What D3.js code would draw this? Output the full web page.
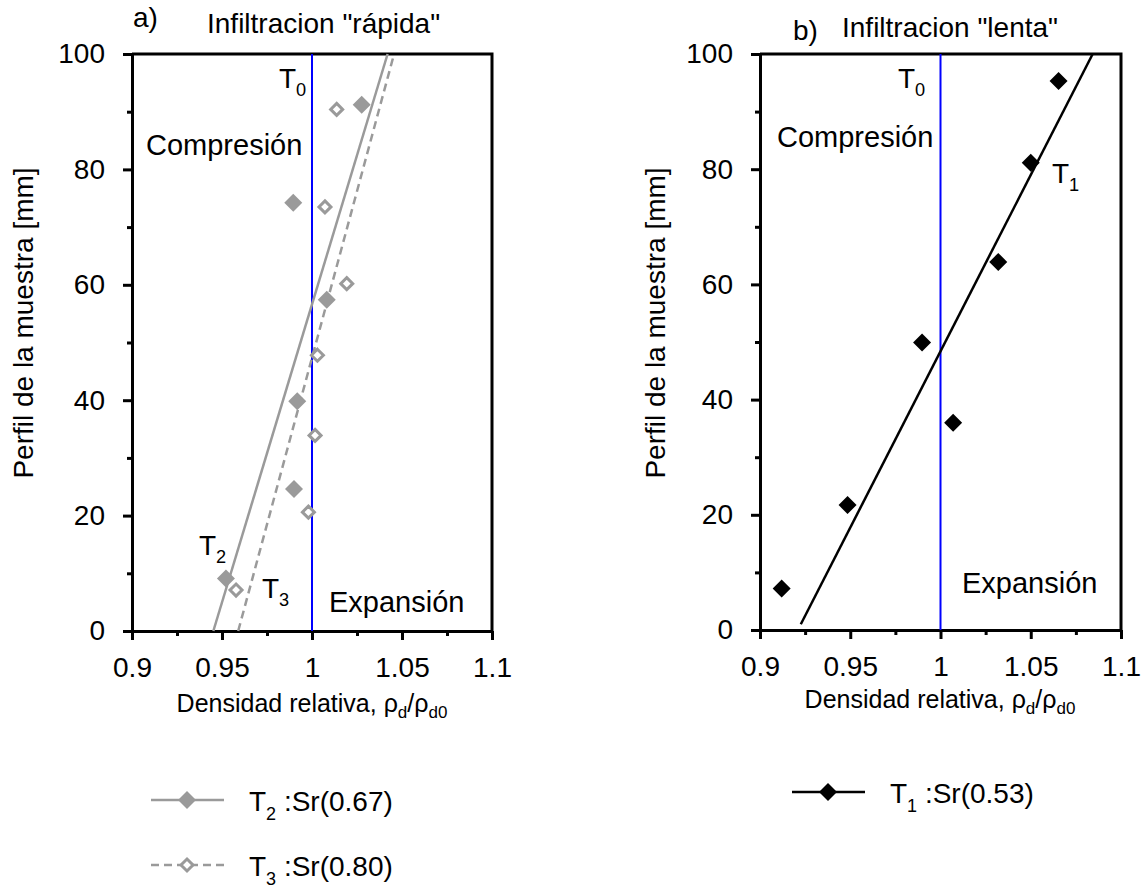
<!DOCTYPE html>
<html><head><meta charset="utf-8">
<script src="https://cdn.jsdelivr.net/npm/d3@7"></script>
<style>
body{margin:0;background:#fff;}
text{font-family:"Liberation Sans",Arial,sans-serif;fill:#000;}
</style></head>
<body><svg id="c" width="1144" height="890"></svg>
<script>
// ---- data ----
const xTicks = [0.9, 0.95, 1, 1.05, 1.1];
const xTickLabels = ["0.9", "0.95", "1", "1.05", "1.1"];
const xMinor = [0.925, 0.975, 1.025, 1.075];
const yTicks = [0, 20, 40, 60, 80, 100];
const yMinor = [10, 30, 50, 70, 90];

// a) Infiltracion "rápida"
const t2X = [0.9522, 0.9900, 0.9918, 1.0082, 0.9896, 1.0276];
const t2Y = [9.1, 24.6, 39.8, 57.4, 74.2, 91.2];
const t3X = [0.9578, 0.9980, 1.0017, 1.0030, 1.0193, 1.0072, 1.0137];
const t3Y = [7.1, 20.6, 33.9, 47.8, 60.2, 73.5, 90.4];
const t2FitX = [0.9452, 1.0420];
const t2FitY = [0, 100];
const t3FitX = [0.9590, 1.0456];
const t3FitY = [0, 100];

// b) Infiltracion "lenta"
const t1X = [0.9120, 0.9485, 0.9898, 1.0070, 1.0320, 1.0500, 1.0654];
const t1Y = [7.2, 21.7, 49.9, 36.0, 63.9, 81.1, 95.3];
const t1FitX = [0.9226, 1.0843];
const t1FitY = [1, 100];

const refX = [1, 1];
const refY = [0, 100];

const legendSr = ["0.67", "0.80", "0.53"];

const GRAY = "#9a9a9a";
const FS = 28;
const svg = d3.select("#c");

function panel(x0, x1, yTop, yBot) {
  const x = d3.scaleLinear().domain([0.9, 1.1]).range([x0, x1]);
  const y = d3.scaleLinear().domain([0, 100]).range([yBot, yTop]);
  const g = svg.append("g");
  g.append("path").attr("d", `M${x0},${yTop}H${x1}V${yBot}`).attr("fill", "none")
    .attr("stroke", "#000").attr("stroke-width", 3);
  g.append("g").attr("transform", `translate(0,${yBot})`)
    .call(d3.axisBottom(x).tickValues(xTicks).tickSize(9).tickSizeOuter(0).tickPadding(17)
      .tickFormat((d, i) => xTickLabels[i]));
  g.append("g").attr("transform", `translate(0,${yBot})`)
    .call(d3.axisBottom(x).tickValues(xMinor).tickSize(5).tickSizeOuter(0).tickFormat(""))
    .select(".domain").remove();
  g.append("g").attr("transform", `translate(${x0},0)`)
    .call(d3.axisLeft(y).tickValues(yTicks).tickSize(9).tickSizeOuter(0).tickPadding(18));
  g.append("g").attr("transform", `translate(${x0},0)`)
    .call(d3.axisLeft(y).tickValues(yMinor).tickSize(5).tickSizeOuter(0).tickFormat(""))
    .select(".domain").remove();
  g.selectAll(".domain").attr("stroke-width", 3);
  g.selectAll(".tick line").attr("stroke-width", 3);
  g.selectAll(".tick text").attr("font-size", 28).attr("font-family", "Liberation Sans, Arial, sans-serif").attr("fill", "#000");
  return {x, y, g};
}

function line(p, xs, ys, color, dash, w) {
  const l = d3.line().x(d => p.x(d[0])).y(d => p.y(d[1]));
  p.g.append("path").attr("d", l(xs.map((v, i) => [v, ys[i]])))
    .attr("fill", "none").attr("stroke", color).attr("stroke-width", w)
    .attr("stroke-dasharray", dash || null);
}
const diamond = r => `M0,${-r}L${r},0L0,${r}L${-r},0Z`;
function points(p, xs, ys, fill, stroke, r, sw) {
  p.g.selectAll(null).data(xs.map((v, i) => [v, ys[i]])).enter().append("path")
    .attr("d", diamond(r))
    .attr("transform", d => `translate(${p.x(d[0])},${p.y(d[1])})`)
    .attr("fill", fill).attr("stroke", stroke).attr("stroke-width", sw);
}
function sub(parent, x, y, main, s, size, anchor) {
  const t = parent.append("text").attr("x", x).attr("y", y).attr("font-size", size)
    .attr("text-anchor", anchor || "start");
  t.append("tspan").text(main);
  t.append("tspan").attr("font-size", size * 0.65).attr("dy", size * 0.3).text(s);
  return t;
}
function xlabel(parent, cx, y) {
  const t = parent.append("text").attr("x", cx).attr("y", y).attr("font-size", 25).attr("text-anchor", "middle");
  t.append("tspan").text("Densidad relativa, ρ");
  t.append("tspan").attr("font-size", 17).attr("dy", 6).text("d");
  t.append("tspan").attr("dy", -6).text("/ρ");
  t.append("tspan").attr("font-size", 17).attr("dy", 6).text("d0");
}
function ylabel(parent, cx, cy) {
  parent.append("text").attr("transform", `translate(${cx},${cy}) rotate(-90)`)
    .attr("font-size", 28).attr("text-anchor", "middle").text("Perfil de la muestra [mm]");
}

// ---- panel a ----
const A = panel(132, 492, 54, 631);
line(A, refX, refY, "#0000ff", null, 2);
line(A, t2FitX, t2FitY, GRAY, null, 2.5);
line(A, t3FitX, t3FitY, GRAY, "8,5", 2.5);
points(A, t2X, t2Y, GRAY, "none", 9, 0);
points(A, t3X, t3Y, "#fff", GRAY, 6, 3);
svg.append("text").attr("x", 133).attr("y", 27).attr("font-size", FS).text("a)");
svg.append("text").attr("x", 207).attr("y", 33).attr("font-size", FS).text("Infiltracion \"rápida\"");
sub(svg, 279, 88, "T", "0", FS);
svg.append("text").attr("x", 146).attr("y", 155).attr("font-size", 29).text("Compresión");
sub(svg, 199, 555, "T", "2", FS);
sub(svg, 262, 598, "T", "3", FS);
svg.append("text").attr("x", 329).attr("y", 612).attr("font-size", 29).text("Expansión");
xlabel(svg, 312, 712);
ylabel(svg, 33, 323);

// ---- panel b ----
const B = panel(760, 1121, 54, 630);
line(B, refX, refY, "#0000ff", null, 2);
line(B, t1FitX, t1FitY, "#000", null, 2.5);
points(B, t1X, t1Y, "#000", "none", 9, 0);
svg.append("text").attr("x", 793).attr("y", 40).attr("font-size", FS).text("b)");
svg.append("text").attr("x", 842).attr("y", 37).attr("font-size", FS).text("Infiltracion \"lenta\"");
sub(svg, 898, 88, "T", "0", FS);
svg.append("text").attr("x", 777).attr("y", 147).attr("font-size", 29).text("Compresión");
sub(svg, 1052, 183, "T", "1", FS);
svg.append("text").attr("x", 962).attr("y", 593).attr("font-size", 29).text("Expansión");
xlabel(svg, 940, 708);
ylabel(svg, 665, 323);

// ---- legends ----
function legendItem(x, y, color, dash, fill, stroke, r, sw, main, s, rest) {
  svg.append("line").attr("x1", x).attr("x2", x + 73).attr("y1", y).attr("y2", y)
    .attr("stroke", color).attr("stroke-width", 2.5).attr("stroke-dasharray", dash || null);
  svg.append("path").attr("d", diamond(r)).attr("transform", `translate(${x + 36},${y})`)
    .attr("fill", fill).attr("stroke", stroke).attr("stroke-width", sw);
  const t = svg.append("text").attr("x", x + 98).attr("y", y + 11).attr("font-size", FS);
  t.append("tspan").text(main);
  t.append("tspan").attr("font-size", 18).attr("dy", 9).text(s);
  t.append("tspan").attr("dy", -9).text(" :Sr(" + rest + ")");
}
legendItem(151, 800, GRAY, null, GRAY, "none", 9, 0, "T", "2", legendSr[0]);
legendItem(151, 865, GRAY, "8,5", "#fff", GRAY, 6, 3, "T", "3", legendSr[1]);
legendItem(792, 792, "#000", null, "#000", "none", 9, 0, "T", "1", legendSr[2]);
</script></body></html>
